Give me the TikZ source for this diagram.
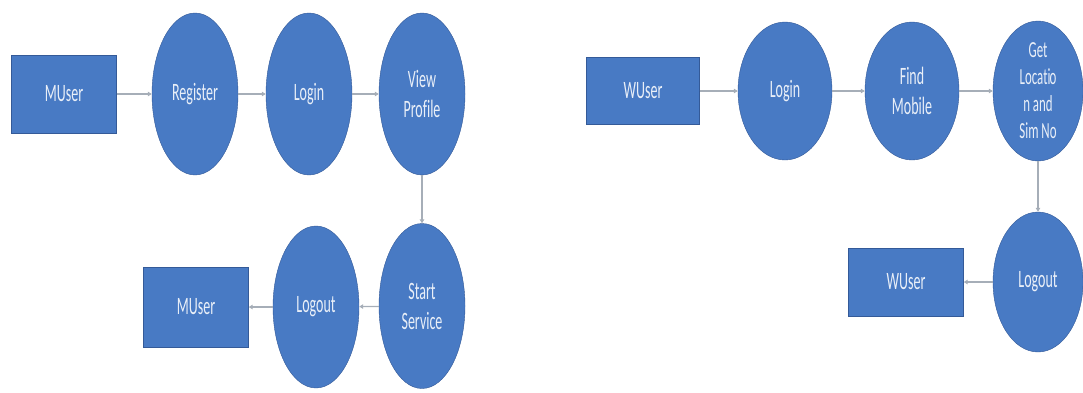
\documentclass[tikz,border=0pt]{standalone}
\usepackage{fontspec}
\newfontfamily\boxfont[FakeStretch=0.56, RawFeature={-liga;-clig;-calt;-dlig}]{Carlito}
\usetikzlibrary{shapes.geometric,arrows.meta}

\definecolor{boxblue}{RGB}{72,122,196}
\definecolor{edgeblue}{RGB}{52,90,152}
\definecolor{flowgrey}{RGB}{166,174,184}

\tikzset{
    usecase/.style={ellipse, draw=edgeblue, fill=boxblue, text=white!88!boxblue, inner sep=0pt, align=center, font=\boxfont\fontsize{25}{30}\selectfont},
    actor/.style={rectangle, draw=edgeblue, fill=boxblue, text=white!88!boxblue, inner sep=0pt, font=\boxfont\fontsize{25}{30}\selectfont},
    flow/.style={draw=flowgrey, line width=1.3pt, -{Triangle[length=4pt, width=4.5pt]}}
}

\begin{document}
\begin{tikzpicture}[x=1pt, y=-1pt]
    \useasboundingbox (0, 0) rectangle (1083, 392);

    \node[actor, minimum width=105pt, minimum height=78pt] (muser) at (64, 94) {MUser};
    \node[usecase, minimum width=86pt, minimum height=162pt] (register) at (195, 94) {Register};
    \node[usecase, minimum width=86pt, minimum height=162pt] (mlogin) at (309, 94) {Login};
    \node[usecase, minimum width=86pt, minimum height=162pt] (profile) at (422, 94) {View\\Profile};
    \node[usecase, minimum width=86pt, minimum height=165pt] (service) at (422, 306) {Start\\Service};
    \node[usecase, minimum width=86pt, minimum height=162pt] (mlogout) at (316, 307) {Logout};
    \node[actor, minimum width=105pt, minimum height=80pt] (museragain) at (196, 307) {MUser};

    \draw[flow] (muser) -- (register);
    \draw[flow] (register) -- (mlogin);
    \draw[flow] (mlogin) -- (profile);
    \draw[flow] (profile) -- (service);
    \draw[flow] (service) -- (mlogout);
    \draw[flow] (mlogout) -- (museragain);

    \node[actor, minimum width=113pt, minimum height=67pt] (wuser) at (643, 91) {WUser};
    \node[usecase, minimum width=94pt, minimum height=138pt] (wlogin) at (785, 91) {Login};
    \node[usecase, minimum width=94pt, minimum height=138pt] (findmobile) at (912, 91) {Find\\Mobile};
    \node[usecase, minimum width=90pt, minimum height=140pt, inner ysep=-8pt, font=\boxfont\fontsize{23}{27}\selectfont] (location) at (1038, 91) {Get\\Locati\kern-1pt o\\n and\\Sim No};
    \node[usecase, minimum width=90pt, minimum height=140pt] (wlogout) at (1038, 282) {Logout};
    \node[actor, minimum width=115pt, minimum height=68pt] (wuseragain) at (906, 282) {WUser};

    \draw[flow] (wuser) -- (wlogin);
    \draw[flow] (wlogin) -- (findmobile);
    \draw[flow] (findmobile) -- (location);
    \draw[flow] (location) -- (wlogout);
    \draw[flow] (wlogout) -- (wuseragain);
\end{tikzpicture}
\end{document}
